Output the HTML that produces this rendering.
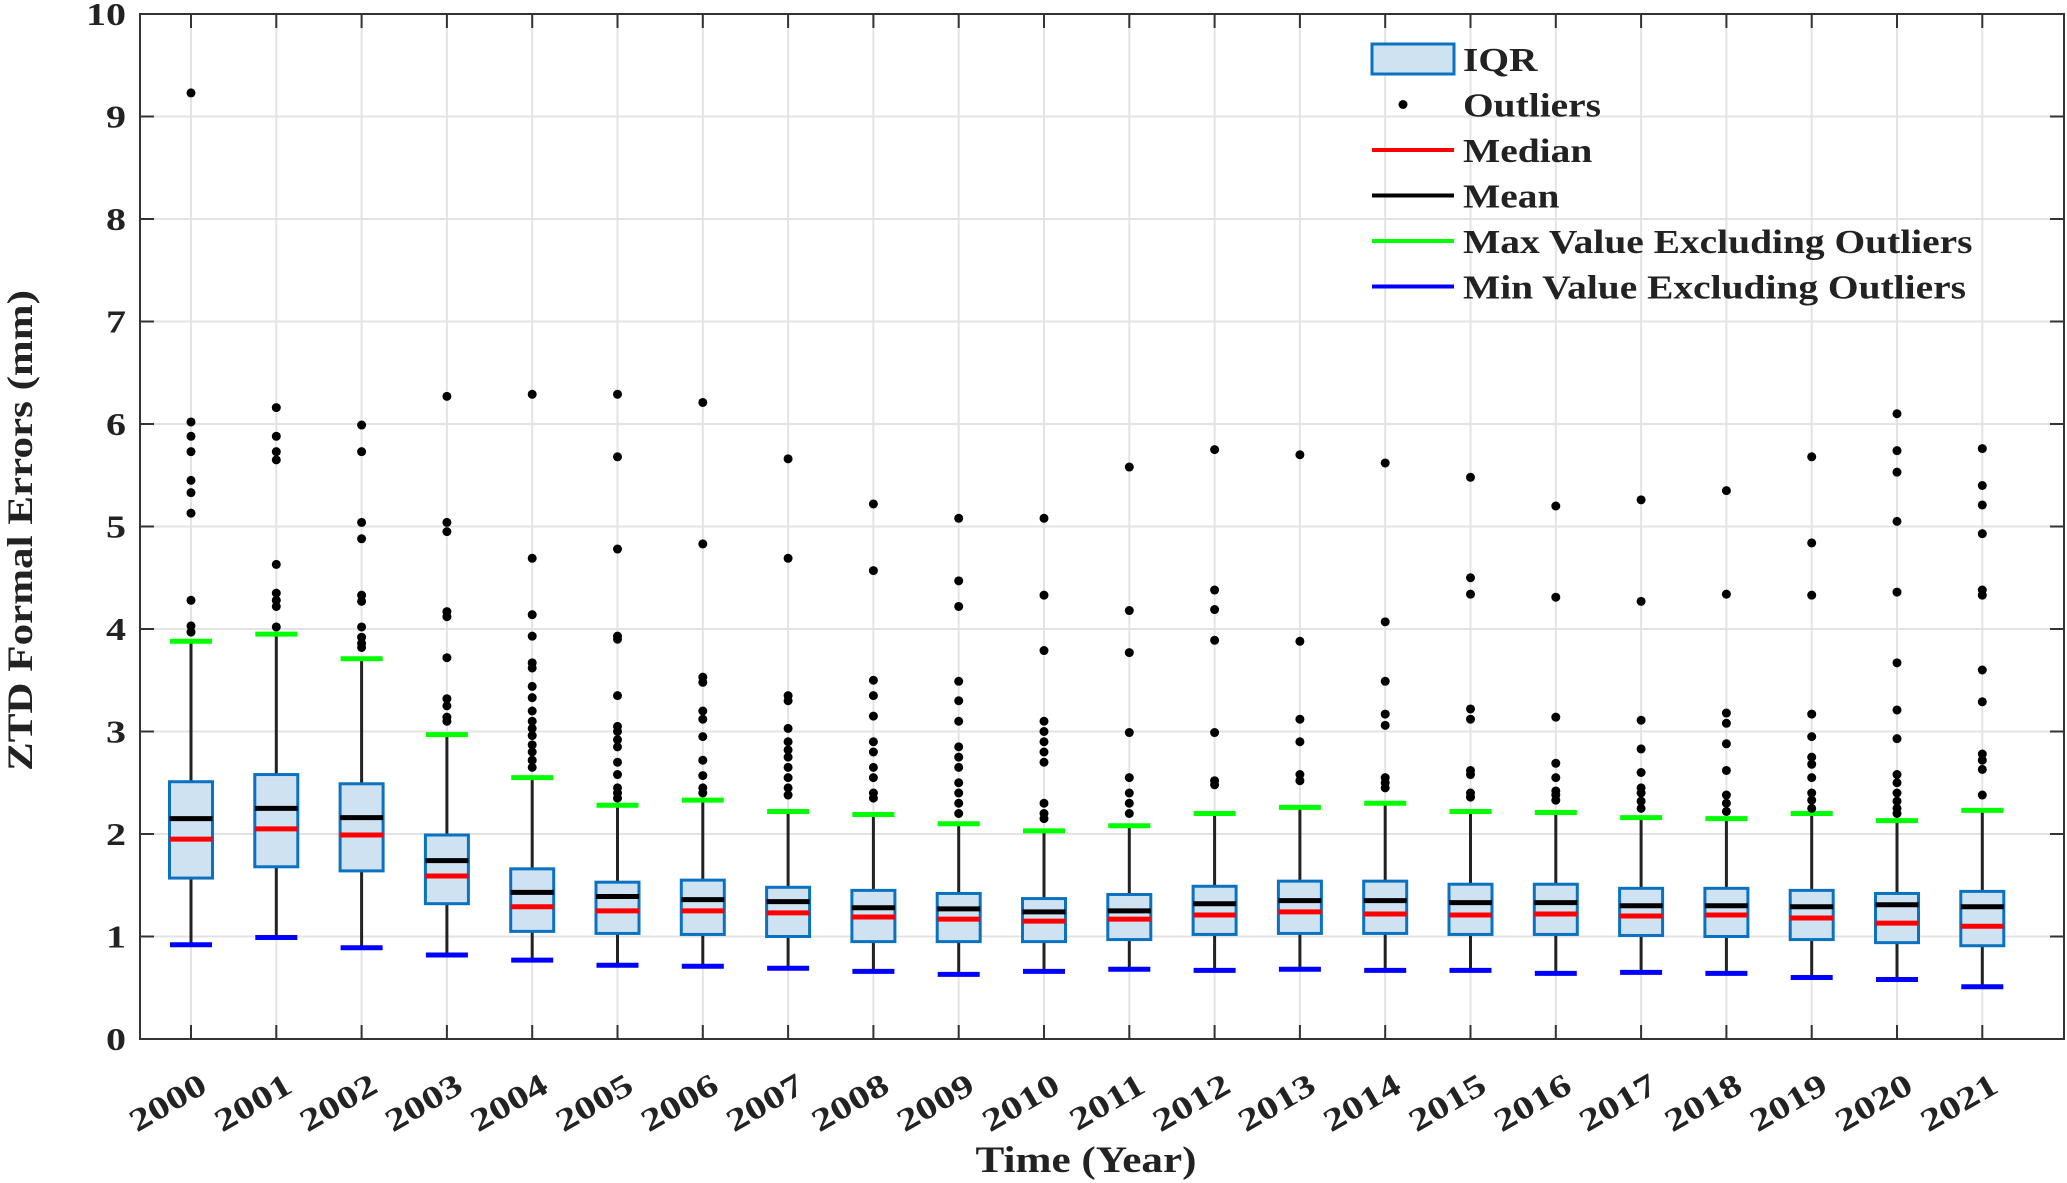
<!DOCTYPE html>
<html><head><meta charset="utf-8"><style>
html,body{margin:0;padding:0;background:#fff;}
svg{display:block;font-family:"Liberation Serif",serif;font-weight:bold;}
</style></head><body>
<svg id="chart" width="2067" height="1183" viewBox="0 0 2067 1183" xmlns="http://www.w3.org/2000/svg"></svg>
<script>
const years=['2000','2001','2002','2003','2004','2005','2006','2007','2008','2009','2010','2011','2012','2013','2014','2015','2016','2017','2018','2019','2020','2021'];
const q1=[1.57,1.68,1.64,1.32,1.05,1.03,1.02,1.00,0.95,0.95,0.95,0.97,1.02,1.03,1.03,1.02,1.02,1.01,1.00,0.97,0.94,0.91];
const q3=[2.51,2.58,2.49,1.99,1.66,1.53,1.55,1.48,1.45,1.42,1.37,1.41,1.49,1.54,1.54,1.51,1.51,1.47,1.47,1.45,1.42,1.44];
const medians=[1.95,2.05,1.99,1.59,1.29,1.25,1.25,1.23,1.19,1.17,1.15,1.17,1.21,1.24,1.22,1.21,1.22,1.20,1.21,1.18,1.13,1.10];
const means=[2.15,2.25,2.16,1.74,1.43,1.39,1.36,1.34,1.28,1.27,1.24,1.25,1.32,1.35,1.35,1.33,1.33,1.30,1.30,1.29,1.31,1.29];
const maxVals=[3.88,3.95,3.71,2.97,2.55,2.28,2.33,2.22,2.19,2.10,2.03,2.08,2.20,2.26,2.30,2.22,2.21,2.16,2.15,2.20,2.13,2.23];
const minVals=[0.92,0.99,0.89,0.82,0.77,0.72,0.71,0.69,0.66,0.63,0.66,0.68,0.67,0.68,0.67,0.67,0.64,0.65,0.64,0.60,0.58,0.51];
const outliers=[
[9.23,6.02,5.88,5.73,5.45,5.33,5.13,4.28,4.03,3.97],
[6.16,5.88,5.73,5.65,4.63,4.35,4.28,4.22,4.02],
[5.99,5.73,5.04,4.88,4.33,4.27,4.02,3.92,3.86,3.82],
[6.27,5.04,4.95,4.17,4.12,3.72,3.32,3.25,3.14,3.10],
[6.29,4.69,4.14,3.93,3.67,3.62,3.44,3.33,3.20,3.10,3.03,2.96,2.87,2.80,2.72,2.65],
[6.29,5.68,4.78,3.93,3.90,3.35,3.05,3.00,2.92,2.85,2.70,2.58,2.45,2.40,2.35],
[6.21,4.83,3.53,3.48,3.20,3.12,2.95,2.72,2.57,2.45,2.40],
[5.66,4.69,3.35,3.30,3.03,2.90,2.82,2.75,2.65,2.55,2.45,2.38],
[5.22,4.57,3.50,3.35,3.15,2.90,2.80,2.65,2.55,2.40,2.35],
[5.08,4.47,4.22,3.49,3.30,3.10,2.85,2.75,2.65,2.50,2.40,2.30,2.20],
[5.08,4.33,3.79,3.10,3.00,2.90,2.80,2.70,2.30,2.20,2.15],
[5.58,4.18,3.77,2.99,2.55,2.40,2.30,2.20],
[5.75,4.38,4.19,3.89,2.99,2.52,2.48],
[5.70,3.88,3.12,2.90,2.58,2.52],
[5.62,4.07,3.49,3.17,3.06,2.55,2.50,2.45],
[5.48,4.50,4.34,3.22,3.12,2.62,2.58,2.40,2.36],
[5.20,4.31,3.14,2.69,2.55,2.42,2.38,2.33],
[5.26,4.27,3.11,2.83,2.60,2.45,2.40,2.32,2.25],
[5.35,4.34,3.18,3.08,2.88,2.62,2.38,2.30,2.22],
[5.68,4.84,4.33,3.17,2.95,2.75,2.68,2.55,2.40,2.33,2.25],
[6.10,5.74,5.53,5.05,4.36,3.67,3.21,2.93,2.58,2.50,2.40,2.32,2.25,2.20],
[5.76,5.40,5.21,4.93,4.38,4.33,3.60,3.29,2.78,2.72,2.63,2.38]];
const yTicks=[0,1,2,3,4,5,6,7,8,9,10];

const svg=document.getElementById('chart');
const NS='http://www.w3.org/2000/svg';
const L=140,R=2064,T=14,B=1039;
const x0=191,dx=85.3;
function xs(i){return x0+i*dx;}
function ys(v){return B-(B-T)*v/10;}
function mk(tag,attrs,parent){const e=document.createElementNS(NS,tag);for(const k in attrs)e.setAttribute(k,attrs[k]);(parent||svg).appendChild(e);return e;}
function widen(t,f){const w=t.getComputedTextLength();t.setAttribute('textLength',w*f);t.setAttribute('lengthAdjust','spacingAndGlyphs');}

const grid=mk('g',{});


yTicks.forEach(v=>{mk('line',{x1:L,x2:R,y1:ys(v),y2:ys(v),stroke:'#e3e3e3','stroke-width':2},grid);});
years.forEach((y,i)=>{mk('line',{x1:xs(i),x2:xs(i),y1:T,y2:B,stroke:'#e3e3e3','stroke-width':2},grid);});

const axes=mk('g',{});


mk('rect',{x:L,y:T,width:R-L,height:B-T,fill:'none',stroke:'#333','stroke-width':2},axes);
yTicks.forEach(v=>{
 mk('line',{x1:L,x2:L+14,y1:ys(v),y2:ys(v),stroke:'#333','stroke-width':2},axes);
 mk('line',{x1:R-14,x2:R,y1:ys(v),y2:ys(v),stroke:'#333','stroke-width':2},axes);
 const t=mk('text',{x:L-14,y:ys(v)+11,'text-anchor':'end','font-size':32,fill:'#222'},axes);
 t.textContent=v;
 
 
 widen(t,1.25);
});
years.forEach((y,i)=>{
 mk('line',{x1:xs(i),x2:xs(i),y1:B-14,y2:B,stroke:'#333','stroke-width':2},axes);
 mk('line',{x1:xs(i),x2:xs(i),y1:T,y2:T+14,stroke:'#333','stroke-width':2},axes);
 const ax=xs(i)+18,ay=B+52;
 const t=mk('text',{x:ax,y:ay,'text-anchor':'end','font-size':32,fill:'#222',transform:`rotate(-30 ${ax} ${ay})`},axes);
 t.textContent=y;
 
 
 widen(t,1.3);
});
const yt=mk('text',{x:32,y:(T+B)/2+4,'text-anchor':'middle','font-size':36,fill:'#222',transform:`rotate(-90 32 ${(T+B)/2+4})`});
yt.textContent='ZTD Formal Errors (mm)';


yt.setAttribute('textLength',481);
yt.setAttribute('lengthAdjust','spacingAndGlyphs');
const xt=mk('text',{x:1086,y:1172,'text-anchor':'middle','font-size':37,fill:'#222'});
xt.textContent='Time (Year)';


xt.setAttribute('textLength',221);
xt.setAttribute('lengthAdjust','spacingAndGlyphs');

const hw=21.5,cw=21;
years.forEach((y,i)=>{
 const g=mk('g',{});
 
 
 const cx=xs(i);
 mk('line',{x1:cx,x2:cx,y1:ys(maxVals[i]),y2:ys(q3[i]),stroke:'#222','stroke-width':3},g);
 mk('line',{x1:cx,x2:cx,y1:ys(q1[i]),y2:ys(minVals[i]),stroke:'#222','stroke-width':3},g);
 mk('rect',{x:cx-hw,y:ys(q3[i]),width:hw*2,height:ys(q1[i])-ys(q3[i]),fill:'#cfe2f1',stroke:'#0a72c0','stroke-width':3},g);
 mk('line',{x1:cx-hw,x2:cx+hw,y1:ys(means[i]),y2:ys(means[i]),stroke:'#000','stroke-width':5},g);
 mk('line',{x1:cx-hw,x2:cx+hw,y1:ys(medians[i]),y2:ys(medians[i]),stroke:'#ff0000','stroke-width':5},g);
 mk('line',{x1:cx-cw,x2:cx+cw,y1:ys(maxVals[i]),y2:ys(maxVals[i]),stroke:'#00ff00','stroke-width':5},g);
 mk('line',{x1:cx-cw,x2:cx+cw,y1:ys(minVals[i]),y2:ys(minVals[i]),stroke:'#0000ff','stroke-width':5},g);
 outliers[i].forEach(v=>{mk('circle',{cx:cx,cy:ys(v),r:4.5,fill:'#000'},g);});
});

const lg=mk('g',{});


const rows=[['IQR','box'],['Outliers','dot'],['Median','#ff0000'],['Mean','#000'],['Max Value Excluding Outliers','#00ff00'],['Min Value Excluding Outliers','#0000ff']];
rows.forEach((r,k)=>{
 const cy=59+k*45.5;
 if(r[1]==='box')mk('rect',{x:1372,y:cy-15,width:82,height:30,fill:'#cfe2f1',stroke:'#0a72c0','stroke-width':3},lg);
 else if(r[1]==='dot')mk('circle',{cx:1403,cy:cy,r:4.5,fill:'#000'},lg);
 else mk('line',{x1:1372,x2:1454,y1:cy,y2:cy,stroke:r[1],'stroke-width':4},lg);
 const t=mk('text',{x:1463,y:cy+12,'font-size':34,fill:'#222'},lg);
 t.textContent=r[0];
 
 
 widen(t,1.16);
});
</script>
</body></html>
